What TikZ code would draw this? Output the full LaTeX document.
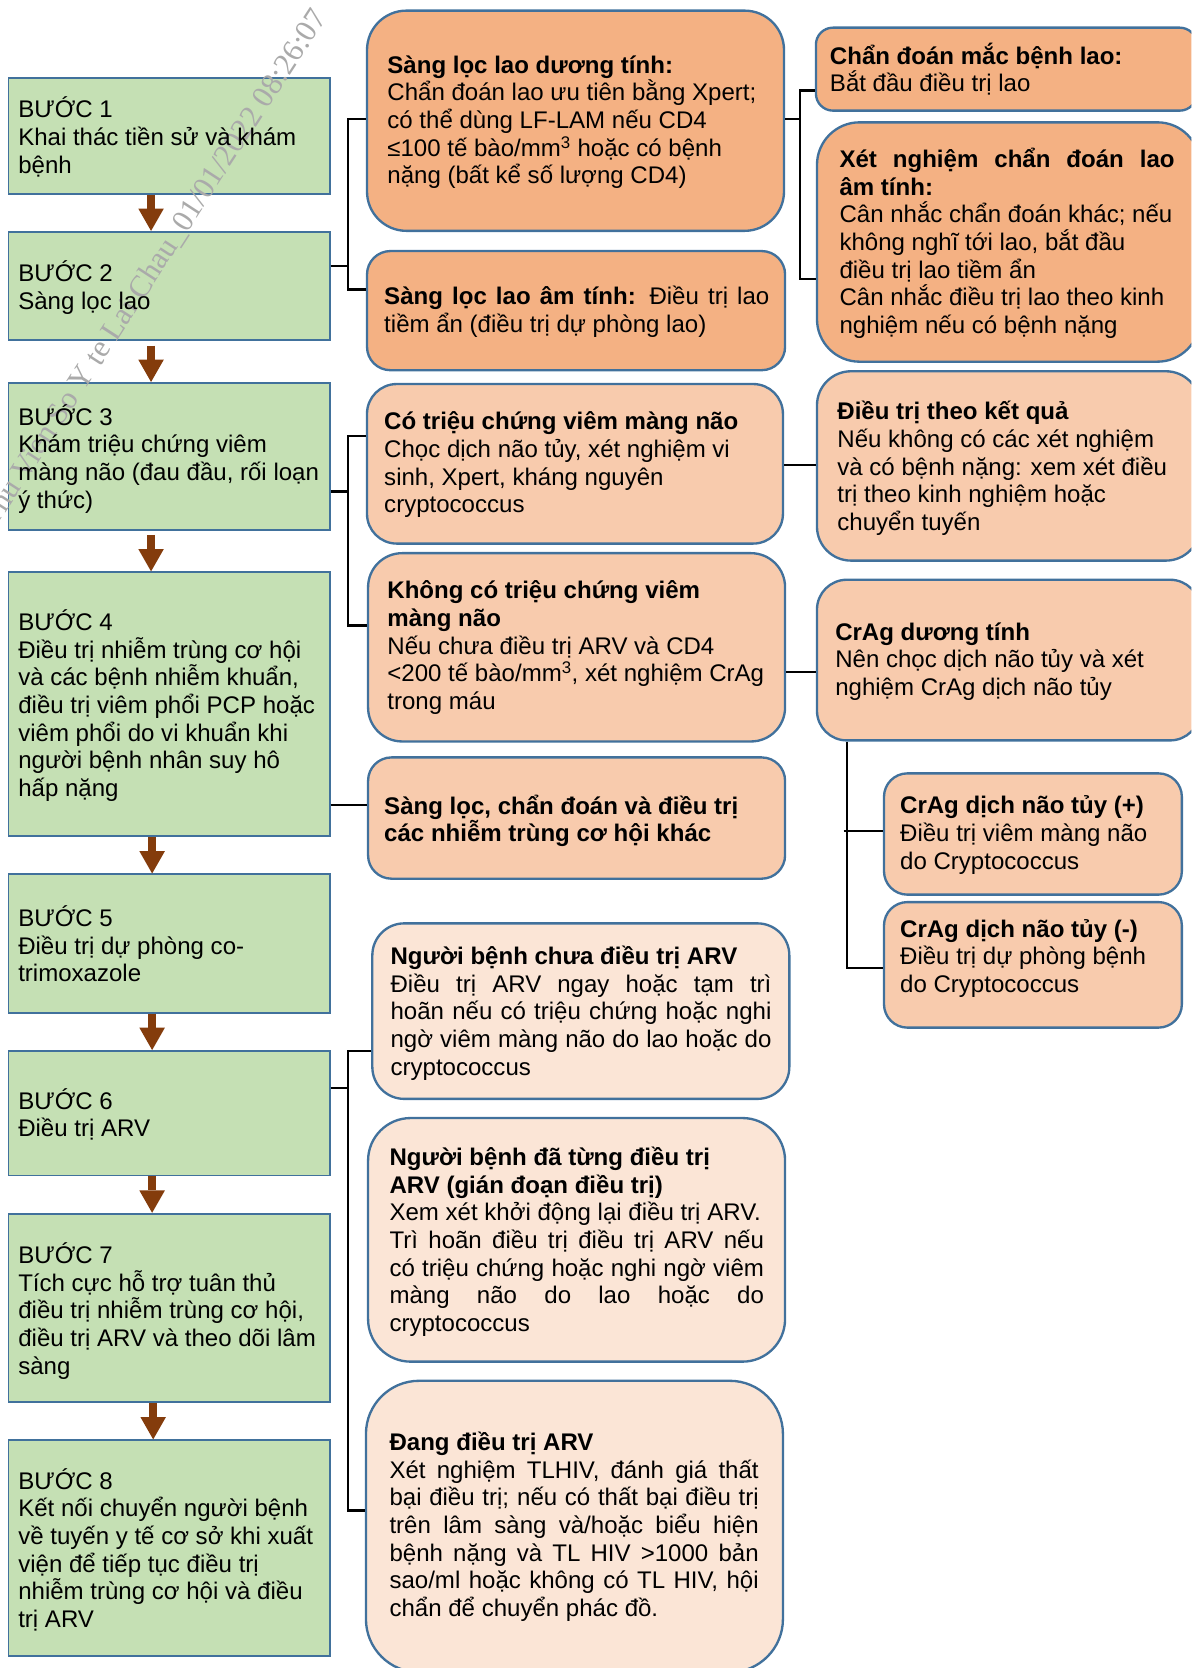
\documentclass[tikz,border=0pt]{standalone}
\usepackage{fontspec}
\setmainfont{Liberation Sans}
\newfontfamily\wmfont{Liberation Serif}
\usetikzlibrary{arrows.meta,calc}
\setlength{\lineskiplimit}{-100pt}
\definecolor{gfill}{RGB}{197,224,180}
\definecolor{bline}{RGB}{65,113,156}
\definecolor{ofillA}{RGB}{244,177,131}
\definecolor{ofillB}{RGB}{248,203,173}
\definecolor{ofillC}{RGB}{251,229,214}
\definecolor{arrowc}{RGB}{132,60,12}
\definecolor{wmgray}{RGB}{170,170,170}
\newcommand\jl[2]{\makebox[#1pt][s]{#2}}
\newcommand\mkbox[6]{%
  \pgfmathsetmacro\mkbw{#5-#3}%
  \pgfmathsetmacro\mkbh{#6-#4}%
  \pgfmathsetmacro\mkbx{(#3+#5)/2}%
  \pgfmathsetmacro\mkby{(#4+#6)/2}%
  \node[#2, minimum width=\mkbw pt, minimum height=\mkbh pt] (#1) at (\mkbx,\mkby) {};}
\begin{document}
\begin{tikzpicture}[x=1pt,y=-1pt,
  gbox/.style={draw=bline, line width=1.8pt, fill=gfill, inner sep=0pt, rectangle},
  obox/.style={draw=bline, line width=2.2pt, inner sep=0pt, rectangle},
  txt/.style={anchor=north west, inner sep=0pt, align=left, yshift=-6pt,
    font=\fontsize{22.6}{26}\selectfont, execute at begin node={\rule{0pt}{24pt}}},
  wm/.style={font=\wmfont\fontsize{29}{33}\selectfont, text=wmgray, rotate=57,
    anchor=base east, inner sep=0pt},
  conn/.style={draw=black, line width=2.2pt},
  stepar/.style={draw=arrowc, line width=7.4pt,
    -{Triangle[width=24pt,length=21pt,line width=0pt,fill=arrowc]}}]
\useasboundingbox (0,0) rectangle (1120,1568);
\clip (0,0) rectangle (1120,1568);
% left step boxes
\mkbox{s1}{gbox}{8}{73}{310}{182}
\mkbox{s2}{gbox}{8}{218}{310}{320}
\mkbox{s3}{gbox}{8}{360}{310}{498}
\mkbox{s4}{gbox}{8}{538}{310}{786}
\mkbox{s5}{gbox}{8}{822}{310}{952}
\mkbox{s6}{gbox}{8}{988}{310}{1105}
\mkbox{s7}{gbox}{8}{1141}{310}{1318}
\mkbox{s8}{gbox}{8}{1354}{310}{1557}
% middle boxes
\mkbox{A}{obox,fill=ofillA,rounded corners=37pt}{345}{10}{737}{217}
\mkbox{B}{obox,fill=ofillA,rounded corners=22pt}{345}{236}{738}{348}
\mkbox{C}{obox,fill=ofillB,rounded corners=28pt}{345}{361}{736}{511}
\mkbox{D}{obox,fill=ofillB,rounded corners=32pt}{346}{520}{738}{697}
\mkbox{E}{obox,fill=ofillB,rounded corners=22pt}{346}{712}{738}{826}
\mkbox{F}{obox,fill=ofillC,rounded corners=30pt}{350}{868}{742}{1033}
\mkbox{G}{obox,fill=ofillC,rounded corners=40pt}{346}{1051}{738}{1280}
\mkbox{H}{obox,fill=ofillC,rounded corners=50pt}{344}{1298}{736}{1572}
% right boxes
\mkbox{I}{obox,fill=ofillA,rounded corners=16pt}{767}{26}{1125}{104}
\mkbox{J}{obox,fill=ofillA,rounded corners=40pt}{768}{115}{1128}{340}
\mkbox{K}{obox,fill=ofillB,rounded corners=32pt}{768}{349}{1128}{527}
\mkbox{L}{obox,fill=ofillB,rounded corners=28pt}{768}{545}{1128}{696}
\mkbox{M}{obox,fill=ofillB,rounded corners=22pt}{831}{727}{1111}{841}
\mkbox{N}{obox,fill=ofillB,rounded corners=22pt}{831}{848}{1111}{966}
% watermark
\node[wm] (wm) at (308,16) {Thu Vien So Y te Lai Chau\_01/01/2022 08:26:07};
% texts
\node[txt] (s1t) at (17,85) {BƯỚC 1\\Khai thác tiền sử và khám\\bệnh};
\node[txt] (s2t) at (17,239) {BƯỚC 2\\Sàng lọc lao};
\node[txt] (s3t) at (17,374) {BƯỚC 3\\Khám triệu chứng viêm\\màng não (đau đầu, rối loạn\\ý thức)};
\node[txt] (s4t) at (17,567) {BƯỚC 4\\Điều trị nhiễm trùng cơ hội\\và các bệnh nhiễm khuẩn,\\điều trị viêm phổi PCP hoặc\\viêm phổi do vi khuẩn khi\\người bệnh nhân suy hô\\hấp nặng};
\node[txt] (s5t) at (17,845) {BƯỚC 5\\Điều trị dự phòng co-\\trimoxazole};
\node[txt] (s6t) at (17,1017) {BƯỚC 6\\Điều trị ARV};
\node[txt] (s7t) at (17,1162) {BƯỚC 7\\Tích cực hỗ trợ tuân thủ\\điều trị nhiễm trùng cơ hội,\\điều trị ARV và theo dõi lâm\\sàng};
\node[txt] (s8t) at (17,1374) {BƯỚC 8\\Kết nối chuyển người bệnh\\về tuyến y tế cơ sở khi xuất\\viện để tiếp tục điều trị\\nhiễm trùng cơ hội và điều\\trị ARV};
\node[txt] (At) at (364,46) {\textbf{Sàng lọc lao dương tính:}\\Chẩn đoán lao ưu tiên bằng Xpert;\\có thể dùng LF-LAM nếu CD4\\≤100 tế bào/mm\textsuperscript{3} hoặc có bệnh\\nặng (bất kể số lượng CD4)};
\node[txt] (Bt) at (361,263) {\jl{362}{\textbf{Sàng lọc lao âm tính:} Điều trị lao}\\tiềm ẩn (điều trị dự phòng lao)};
\node[txt] (Ct) at (361,381) {\textbf{Có triệu chứng viêm màng não}\\Chọc dịch não tủy, xét nghiệm vi\\sinh, Xpert, kháng nguyên\\cryptococcus};
\node[txt] (Dt) at (364,540) {\textbf{Không có triệu chứng viêm}\\\textbf{màng não}\\Nếu chưa điều trị ARV và CD4\\<200 tế bào/mm\textsuperscript{3}, xét nghiệm CrAg\\trong máu};
\node[txt] (Et) at (361,741) {\textbf{Sàng lọc, chẩn đoán và điều trị}\\\textbf{các nhiễm trùng cơ hội khác}};
\node[txt] (Ft) at (367,883) {\textbf{Người bệnh chưa điều trị ARV}\\\jl{358}{Điều trị ARV ngay hoặc tạm trì}\\\jl{358}{hoãn nếu có triệu chứng hoặc nghi}\\\jl{358}{ngờ viêm màng não do lao hoặc do}\\cryptococcus};
\node[txt] (Gt) at (366,1072) {\textbf{Người bệnh đã từng điều trị}\\\textbf{ARV (gián đoạn điều trị)}\\Xem xét khởi động lại điều trị ARV.\\\jl{352}{Trì hoãn điều trị điều trị ARV nếu}\\\jl{352}{có triệu chứng hoặc nghi ngờ viêm}\\\jl{352}{màng não do lao hoặc do}\\cryptococcus};
\node[txt] (Ht) at (366,1340) {\textbf{Đang điều trị ARV}\\\jl{347}{Xét nghiệm TLHIV, đánh giá thất}\\\jl{347}{bại điều trị; nếu có thất bại điều trị}\\\jl{347}{trên lâm sàng và/hoặc biểu hiện}\\\jl{347}{bệnh nặng và TL HIV >1000 bản}\\\jl{347}{sao/ml hoặc không có TL HIV, hội}\\chẩn để chuyển phác đồ.};
\node[txt] (It) at (780,34) {\textbf{Chẩn đoán mắc bệnh lao:}\\Bắt đầu điều trị lao};
\node[txt] (Jt) at (789,133) {\jl{315}{\textbf{Xét nghiệm chẩn đoán lao}}\\\textbf{âm tính:}\\Cân nhắc chẩn đoán khác; nếu\\không nghĩ tới lao, bắt đầu\\điều trị lao tiềm ẩn\\Cân nhắc điều trị lao theo kinh\\nghiệm nếu có bệnh nặng};
\node[txt] (Kt) at (787,371) {\textbf{Điều trị theo kết quả}\\Nếu không có các xét nghiệm\\và có bệnh nặng: xem xét điều\\trị theo kinh nghiệm hoặc\\chuyển tuyến};
\node[txt] (Lt) at (785,579) {\textbf{CrAg dương tính}\\Nên chọc dịch não tủy và xét\\nghiệm CrAg dịch não tủy};
\node[txt] (Mt) at (846,742) {\textbf{CrAg dịch não tủy (+)}\\Điều trị viêm màng não\\do Cryptococcus};
\node[txt] (Nt) at (846,858) {\textbf{CrAg dịch não tủy (-)}\\Điều trị dự phòng bệnh\\do Cryptococcus};
% step arrows
\draw[stepar] ($(s1.south)+(-17,0)$) -- ($(s2.north)+(-17,0)$);
\draw[stepar] ($(s2.south)+(-17,4)$) -- ($(s3.north)+(-17,0)$);
\draw[stepar] ($(s3.south)+(-17,4)$) -- ($(s4.north)+(-17,0)$);
\draw[stepar] ($(s4.south)+(-16,0)$) -- ($(s5.north)+(-16,0)$);
\draw[stepar] ($(s5.south)+(-16,0)$) -- ($(s6.north)+(-16,0)$);
\draw[stepar] ($(s6.south)+(-16,0)$) -- ($(s7.north)+(-16,0)$);
\draw[stepar] ($(s7.south)+(-15,0)$) -- ($(s8.north)+(-15,0)$);
% connectors
\draw[conn] (s2.east |- 0,250) -- (327,250);
\draw[conn] (A.west |- 0,112) -- (327,112) -- (327,272) -- (B.west |- 0,272);
\draw[conn] (A.east |- 0,112) -- (752,112);
\draw[conn] (I.west |- 0,85) -- (752,85) -- (752,262) -- (J.west |- 0,262);
\draw[conn] (s3.east |- 0,462) -- (327,462);
\draw[conn] (C.west |- 0,410) -- (327,410) -- (327,588) -- (D.west |- 0,588);
\draw[conn] (C.east |- 0,437) -- (K.west |- 0,437);
\draw[conn] (D.east |- 0,632) -- (L.west |- 0,632);
\draw[conn] (s4.east |- 0,757) -- (E.west |- 0,757);
\draw[conn] (L.south -| 796,0) -- (796,910) -- (N.west |- 0,910);
\draw[conn] (793,781) -- (M.west |- 0,781);
\draw[conn] (s6.east |- 0,1023) -- (327,1023);
\draw[conn] (F.west |- 0,988) -- (327,988) -- (327,1420) -- (H.west |- 0,1420);
\end{tikzpicture}
\end{document}
